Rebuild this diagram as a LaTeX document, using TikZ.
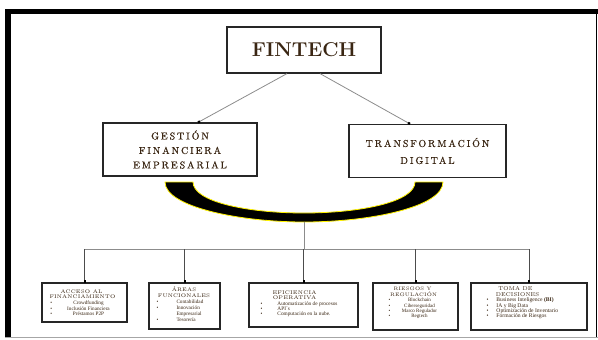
\documentclass[tikz,border=0pt]{standalone}
\usepackage{fontspec}
\usetikzlibrary{arrows.meta,calc}

\newfontfamily\capsfont{Latin Modern Roman}[LetterSpace=19,FakeBold=0.5]
\newfontfamily\smallcapsfont{Latin Modern Roman}[LetterSpace=3]
\newfontfamily\itemfont{Liberation Serif}
\definecolor{ink}{HTML}{3A2613}

% lines of the small boxes: header centred at x, bullet items, continuation
\newcommand\bhead[2]{\hbox to\hsize{\hskip#1pt\relax\hbox to0pt{\hss\smallcapsfont #2\hss}\hfil}}
\newcommand\bitem[3]{\hbox to\hsize{\rlap{\hskip#1pt\relax\textbullet}\hskip#2pt\relax #3\hfil}}
\newcommand\bitemc[3]{\hbox to\hsize{\rlap{\hskip#1pt\relax\textbullet}\hskip#2pt\relax\hbox to0pt{\hss #3\hss}\hfil}}
\newcommand\bcont[2]{\hbox to\hsize{\hskip#1pt\relax #2\hfil}}
\newcommand\bpanel[3]{\vtop{\hsize=#1pt\relax\baselineskip=#2pt\relax\lineskiplimit=-20pt #3}}

\tikzset{
  mainbox/.style={draw=black!85, line width=1.2pt, fill=white, text=ink, inner sep=0pt},
  bigbox/.style={mainbox, align=center, font=\capsfont\fontsize{10}{14.5}\selectfont},
  bbox/.style={draw=black!85, line width=1.4pt, fill=white, inner sep=0pt},
  btext/.style={inner sep=0pt, text=ink, anchor=base west},
  link/.style={draw=black!45, line width=0.8pt, -{Square[length=2.2pt,width=2.2pt,black]}},
  trunk/.style={draw=black!45, line width=0.9pt},
  drop/.style={draw=black!70, line width=0.8pt, -{Square[length=2pt,width=2pt,black]}}
}

\begin{document}
\begin{tikzpicture}[x=1pt,y=-1pt]
\useasboundingbox (0,0) rectangle (598,340);

% page frame
\draw[line width=5pt] (5,11.5) -- (598,11.5);
\draw[line width=6pt] (8,9) -- (8,337);
\draw[line width=1.3pt] (596.8,14) -- (596.8,337);
\draw[black!35, line width=1pt] (5,337.6) -- (598,337.6);

% top level
\node[mainbox, minimum width=154, minimum height=46,
      font=\bfseries\fontsize{20}{24}\selectfont] (fin) at (304,50) {FINTECH};

% second level
\node[bigbox, minimum width=154, minimum height=53] (ges) at (180,149.5)
  {GESTIÓN\\FINANCIERA\\EMPRESARIAL};
\node[bigbox, minimum width=157, minimum height=53,
      font=\capsfont\fontsize{10}{17}\selectfont] (tra) at (427.5,151)
  {TRANSFORMACIÓN\\DIGITAL};

\draw[link] ($(fin.south)+(-17,0)$) -- ($(ges.north)+(18,0)$);
\draw[link] ($(fin.south)+(16,0)$) -- ($(tra.north)+(-17.5,0)$);

% joining band under both areas
\filldraw[fill=black, draw=yellow, line width=0.8pt]
  (165,182) .. controls (165,207) and (240,222) .. (304,222)
  .. controls (370,222) and (443,207) .. (443,182)
  -- (415,182) .. controls (415,202) and (360,213) .. (304,213)
  .. controls (248,213) and (193,202) .. (193,182) -- cycle;
\coordinate (bandfoot) at (304,222);
\coordinate (hub) at (304,249);

% third level boxes
\node[bbox, minimum width=85, minimum height=39] (acc) at (84.5,302.5) {};
\node[bbox, minimum width=71, minimum height=46] (are) at (184.5,306) {};
\node[bbox, minimum width=109, minimum height=44] (efi) at (303.5,305) {};
\node[bbox, minimum width=85, minimum height=47] (rie) at (415.5,306.5) {};
\node[bbox, minimum width=116, minimum height=47] (tom) at (529,306.5) {};

\draw[trunk] (bandfoot) -- (hub);
\draw[trunk] (hub -| acc.north) -- (hub -| tom.north);
\foreach \b in {acc,are,efi,rie,tom}
  \draw[drop] (hub -| \b.north) -- (\b.north);

% texts of the third level
\node[btext, font=\itemfont\fontsize{5.2}{5.6}\selectfont] (acc-t)
  at ($(acc.north west)+(0,11)$)
  {\bpanel{85}{5.6}{%
    \bhead{40}{ACCESO AL}
    \bhead{41}{FINANCIAMIENTO}
    \bitemc{9}{47}{Crowdfunding}
    \bitemc{9}{47}{Inclusión Financiera}
    \bitemc{9}{47}{Préstamos P2P}}};

\node[btext, font=\itemfont\fontsize{5.2}{6}\selectfont] (are-t)
  at ($(are.north west)+(0,9)$)
  {\bpanel{71}{6}{%
    \bhead{35.5}{ÁREAS}
    \bhead{35.5}{FUNCIONALES}
    \bitem{8}{28}{Contabilidad}
    \bitem{8}{28}{Innovación}
    \bcont{28}{Empresarial}
    \bitem{8}{28}{Tesorería}}};

\node[btext, font=\itemfont\fontsize{5.3}{5.6}\selectfont] (efi-t)
  at ($(efi.north west)+(0,12)$)
  {\bpanel{109}{5.4}{%
    \bhead{46}{EFICIENCIA}
    \bhead{46}{OPERATIVA}
    \bitem{12}{29}{Automatización de procesos}
    \bitem{12}{29}{API´s}
    \bitem{12}{29}{Computación en la nube.}}};

\node[btext, font=\itemfont\fontsize{5}{5.4}\selectfont] (rie-t)
  at ($(rie.north west)+(0,8.5)$)
  {\bpanel{85}{5.4}{%
    \bhead{40}{RIESGOS Y}
    \bhead{41}{REGULACIÓN}
    \bitemc{16}{47}{Blockchain}
    \bitemc{16}{47}{Ciberseguridad}
    \bitemc{16}{47}{Marco Regulador}
    \bitemc{16}{47}{Regtech}}};

\node[btext, font=\itemfont\fontsize{5.6}{5.6}\selectfont] (tom-t)
  at ($(tom.north west)+(0,8.5)$)
  {\bpanel{116}{5.4}{%
    \bhead{45}{TOMA DE}
    \bhead{47}{DECISIONES}
    \bitem{16}{26}{Business Inteligence \textbf{(BI)}}
    \bitem{16}{26}{IA y Big Data}
    \bitem{16}{26}{Optimización de Inventario}
    \bitem{16}{26}{Formación de Riesgos}}};
\end{tikzpicture}
\end{document}
